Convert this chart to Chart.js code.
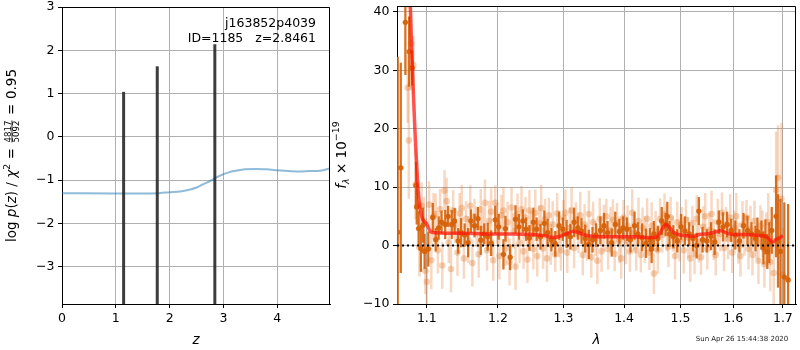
<!DOCTYPE html>
<html>

<head>
    <meta charset="utf-8">
    <title>p(z) and spectrum</title>
    <script src="https://cdn.jsdelivr.net/npm/chart.js@4"></script>
    <style>
        body {
            margin: 0;
            background: #fff;
        }

        #wrap {
            position: relative;
            width: 800px;
            height: 350px;
        }

        canvas {
            position: absolute;
            top: 0;
        }

        #pz { left: 0; }
        #spec { left: 325px; }
    </style>
</head>

<body>
    <div id="wrap">
        <canvas id="pz" width="340" height="350"></canvas>
        <canvas id="spec" width="475" height="350"></canvas>
    </div>

    <script>
        // ---- left panel: log p(z) ----
        const zGrid = [0, 1.0, 1.5, 1.8, 2.0, 2.2, 2.4, 2.5, 2.6, 2.7, 2.8, 2.9, 3.0, 3.1, 3.2, 3.4, 3.6, 3.8, 4.0, 4.2, 4.4, 4.6, 4.8, 4.98];
        const logPz = [-1.30, -1.31, -1.31, -1.30, -1.28, -1.26, -1.21, -1.17, -1.11, -1.05, -0.99, -0.92, -0.86, -0.82, -0.79, -0.75, -0.74, -0.75, -0.77, -0.79, -0.80, -0.79, -0.78, -0.73];
        const peakZ = [1.145, 1.77, 2.84];
        const peakLogP = [1.04, 1.63, 2.14];
        const zTicks = [0, 1, 2, 3, 4];
        const logPTicks = [-3, -2, -1, 0, 1, 2, 3];

        // ---- right panel: spectrum ----
        const lamTicks = [1.1, 1.2, 1.3, 1.4, 1.5, 1.6, 1.7];
        const fluxTicks = [-10, 0, 10, 20, 30, 40];

        const darkLam = [
            1.0615, 1.0655, 1.0715, 1.0765, 1.0805, 1.0855, 1.0865, 1.0890, 1.0920, 1.0950,
            1.097, 1.102, 1.108, 1.112, 1.116,
            1.120, 1.125, 1.129, 1.134, 1.138,
            1.143, 1.147, 1.152, 1.157, 1.161,
            1.166, 1.171, 1.175, 1.180, 1.185,
            1.190, 1.196, 1.201, 1.208, 1.211,
            1.218, 1.226, 1.231, 1.237,
            1.242, 1.247, 1.253, 1.258, 1.264,
            1.270, 1.275, 1.281, 1.287, 1.293,
            1.299, 1.305, 1.311, 1.317, 1.323,
            1.329, 1.335, 1.341, 1.347, 1.353,
            1.360, 1.366, 1.372, 1.379, 1.385,
            1.392, 1.398, 1.405, 1.411, 1.418,
            1.424, 1.431, 1.438, 1.445, 1.448, 1.452,
            1.459, 1.466, 1.473, 1.476, 1.480, 1.487,
            1.494, 1.501, 1.508, 1.516, 1.523,
            1.530, 1.534, 1.541, 1.549, 1.557, 1.564,
            1.572, 1.580, 1.588, 1.596, 1.604,
            1.612, 1.620, 1.628, 1.636, 1.644,
            1.648, 1.656, 1.660, 1.664, 1.668, 1.672, 1.677, 1.686, 1.690,
            1.695, 1.703, 1.711
        ];
        const darkFlux = [
            2.3, 13.3, 38.2, 33.2, 30.4, 10.3, 6.6, 2.9, -0.5, 3.5,
            -1.0, -0.6, 4.8, 1.0, 3.0,
            4.0, 3.6, 5.0, 3.6, 4.2,
            0.8, 2.2, 1.8, 0.5, 4.2,
            3.4, 4.6, 0.9, 2.0, 1.5,
            0.4, 4.4, 3.2, -1.5, 2.9,
            -2.0, 4.5, 3.2, 4.2,
            2.8, 1.3, 4.0, 2.8, 1.5,
            3.8, 2.2, 1.0, 0.3, 3.4,
            2.8, 2.0, 1.5, 4.0, 3.0,
            2.5, 1.2, 0.2, 1.0, 1.8,
            2.6, 3.4, 2.2, 0.5, 3.6,
            2.4, 3.0, 2.8, 1.0, 3.4,
            2.0, 1.4, 0.4, 1.0, -0.6, 2.0,
            1.2, 4.2, 3.6, 5.0, 2.0, 1.5,
            0.8, 3.2, 2.5, 2.0, 1.2,
            0.0, 5.9, 1.0, 0.8, 1.6, 0.6,
            4.0, 3.2, 3.6, 2.6, 1.8,
            0.8, 3.4, 2.6, 2.0, 1.2,
            2.4, 1.8, -0.4, 1.5, -1.0, 0.5, 2.6, 5.0, 0.8,
            -1.0, -5.4, -5.9
        ];
        const darkErr = [
            30, 18, 9, 6, 3, 4, 3, 3, 4, 3,
            3, 3, 2.5, 2, 2,
            2, 2.5, 1.8, 2.5, 2.2,
            2.2, 2.5, 2, 2.5, 2,
            2, 2, 2.5, 1.8, 2.4,
            2.2, 2.4, 2.2, 2.6, 2.2,
            2.2, 2.4, 2.2, 2,
            2, 2.2, 2.5, 2, 2.2,
            2.2, 2.4, 2, 2.2, 2.4,
            2, 2.4, 2.2, 2.5, 2,
            2.2, 2.4, 2.5, 2.2, 2,
            2.4, 2.2, 2, 2.4, 2.2,
            2.2, 2, 2, 2.2, 2.4,
            2, 2.4, 2.5, 2, 2.4, 2.2,
            2.2, 2.4, 2, 2.5, 2.2, 2,
            2, 2.2, 2.5, 2, 2.2,
            2.2, 2.4, 2.2, 2, 2.4, 2.2,
            2, 2.5, 2.2, 2, 2.5,
            2, 2.2, 2.5, 2, 2.2,
            2.4, 2.5, 2.8, 3, 3, 3.5, 4, 7, 8,
            9, 12.8, 13
        ];

        const lightLam = [
            1.0745, 1.0760, 1.0790, 1.0820, 1.0850, 1.0880, 1.0900, 1.0930, 1.0960, 1.0980,
            1.1000, 1.1030, 1.1060, 1.1090, 1.1120, 1.1150, 1.1180, 1.1210, 1.1240, 1.1270,
            1.130, 1.133, 1.136, 1.139, 1.142, 1.145, 1.148, 1.151, 1.154, 1.157,
            1.160, 1.163, 1.166, 1.169, 1.172, 1.175, 1.178, 1.181, 1.184, 1.187,
            1.190, 1.193, 1.196, 1.199, 1.202, 1.205, 1.208, 1.211, 1.214, 1.217,
            1.220, 1.223, 1.226, 1.229, 1.232, 1.235, 1.238, 1.241, 1.244, 1.247,
            1.250, 1.253, 1.256, 1.259, 1.262, 1.265, 1.268, 1.271, 1.274, 1.277,
            1.280, 1.283, 1.287, 1.290, 1.293, 1.296, 1.300, 1.303, 1.306, 1.310,
            1.313, 1.317, 1.320, 1.324, 1.327, 1.331, 1.334, 1.338, 1.341, 1.345,
            1.348, 1.352, 1.355, 1.359, 1.362, 1.366, 1.370, 1.373, 1.377, 1.381,
            1.384, 1.388, 1.392, 1.395, 1.399, 1.403, 1.406, 1.410, 1.414, 1.417,
            1.421, 1.425, 1.429, 1.432, 1.436, 1.440, 1.444, 1.448, 1.452, 1.455,
            1.459, 1.463, 1.467, 1.471, 1.475, 1.478, 1.482, 1.486, 1.490, 1.494,
            1.498, 1.502, 1.506, 1.510, 1.514, 1.518, 1.522, 1.526, 1.530, 1.534,
            1.538, 1.542, 1.546, 1.550, 1.554, 1.558, 1.562, 1.566, 1.570, 1.574,
            1.578, 1.582, 1.586, 1.590, 1.594, 1.598, 1.602, 1.606, 1.610, 1.614,
            1.618, 1.622, 1.626, 1.630, 1.634, 1.638, 1.642, 1.646, 1.650, 1.654,
            1.658, 1.662, 1.666, 1.670, 1.674, 1.681, 1.686, 1.690, 1.697, 1.700
        ];
        const lightFlux = [
            27.0, 18.0, 34.6, 30.9, 10.5, 6.9, -0.3, 6.8, 4.3, -4.3,
            -6.2, 7.0, -2.5, 5.0, 5.4, -0.8, 6.2, -3.4, 9.4, 7.6,
            0.5, -4.0, 6.0, 3.5, -1.2, 5.5, 6.4, -2.2, 4.6, 1.0,
            6.8, -3.0, 5.0, 3.2, -1.5, 6.2, 2.8, 7.3, -0.8, 4.2,
            5.8, -2.5, 7.3, 3.8, -1.8, 5.2, 6.0, -0.5, 4.0, -2.8,
            6.5, 2.5, -3.6, 5.4, 0.5, 6.2, -1.0, 4.8, -2.4, 6.0,
            3.0, -0.6, 5.6, -1.8, 3.8, 6.4, -0.5, 4.5, -2.2, 5.2,
            0.2, 3.6, -1.5, 5.5, 2.0, -0.8, 4.8, 5.6, -1.2, 3.0,
            6.0, -0.4, 4.4, 2.2, 5.2, -1.6, 3.6, 0.4, 5.4, -2.0,
            4.0, 1.2, -2.6, 4.6, -1.0, 3.0, 5.0, -0.6, 2.6, 4.4,
            -1.4, 3.8, 1.0, -2.2, 4.8, 0.8, 3.4, -1.0, 5.6, 2.2,
            -0.8, 4.2, -1.6, 3.0, 1.0, 4.6, -1.2, 3.4, -4.8, 2.4,
            -0.8, 4.6, 1.8, 5.4, 3.0, -0.2, 4.8, 2.0, -1.8, 4.0,
            0.8, 3.6, -0.8, 4.4, 1.4, -2.2, 3.8, -1.4, 4.6, 0.6,
            -2.0, 3.2, 5.0, -0.6, 2.6, 5.4, 1.0, -1.6, 4.0, 2.0,
            5.6, -0.4, 3.6, 1.2, 4.8, -1.2, 3.0, 5.0, 0.4, -1.8,
            3.6, 1.8, 4.8, -0.6, 2.8, -1.6, 4.2, 0.8, -2.6, 3.4,
            2.0, -3.2, 1.2, 4.0, -2.8, -4.7, 9.5, 11.6, 8.0, -5.0
        ];
        const lightErr = [
            6, 10, 8, 5, 6, 4, 5, 4, 4, 4,
            4, 4, 5, 4, 3.5, 4, 3.5, 4, 3.5, 4,
            3.5, 4, 3.5, 3, 4, 3.5, 4, 3.5, 3, 4,
            3.5, 4, 3, 3.5, 4, 3.5, 3, 4, 3.5, 3.5,
            4, 3.5, 3, 3.5, 4, 3.5, 4, 3, 3.5, 4,
            3.5, 3, 4, 3.5, 3.5, 4, 3, 3.5, 4, 3.5,
            3, 3.5, 4, 3.5, 3, 4, 3.5, 3.5, 4, 3,
            3.5, 4, 3, 3.5, 4, 3.5, 3, 4, 3.5, 3.5,
            4, 3.5, 3, 3.5, 4, 3.5, 3.5, 3, 4, 3.5,
            3.5, 3, 4, 3.5, 3.5, 4, 3, 3.5, 4, 3.5,
            3, 3.5, 4, 3.5, 3, 4, 3.5, 3.5, 4, 3,
            3.5, 4, 3, 3.5, 4, 3.5, 3, 4, 3.5, 3.5,
            4, 3.5, 3, 3.5, 4, 3.5, 3.5, 3, 4, 3.5,
            3.5, 3, 4, 3.5, 3.5, 4, 3, 3.5, 4, 3.5,
            3, 3.5, 4, 3.5, 3, 4, 3.5, 3.5, 4, 3,
            3.5, 4, 3, 3.5, 4, 3.5, 3, 4, 3.5, 3.5,
            4, 3.5, 3, 3.5, 4, 3.5, 3.5, 3, 4, 3.5,
            4, 4, 4.5, 5, 5, 6, 10, 9, 13, 8
        ];

        const modelLam = [
            1.0755, 1.0776, 1.0800, 1.0819, 1.0840, 1.0854, 1.0870, 1.0884, 1.0905, 1.0930,
            1.0960, 1.0995, 1.1030, 1.1060, 1.113, 1.13, 1.15, 1.18, 1.20, 1.23,
            1.25, 1.27, 1.285, 1.295, 1.305, 1.316, 1.325, 1.335, 1.35, 1.38,
            1.42, 1.445, 1.455, 1.462, 1.468, 1.474, 1.480, 1.487, 1.495, 1.51,
            1.525, 1.535, 1.55, 1.565, 1.576, 1.585, 1.60, 1.62, 1.64, 1.655,
            1.668, 1.676, 1.680, 1.686, 1.693, 1.700
        ];
        const modelFlux = [
            45, 42, 33, 26.6, 20, 16.3, 12.5, 9.4, 6.8, 5.0,
            4.2, 3.8, 2.8, 2.3, 2.2, 2.1, 2.1, 2.0, 2.0, 1.95,
            1.9, 1.7, 1.4, 1.6, 2.0, 2.45, 2.2, 1.8, 1.55, 1.5,
            1.5, 1.35, 1.4, 2.0, 3.0, 3.6, 3.1, 2.3, 1.9, 1.7,
            1.6, 1.9, 2.0, 2.3, 2.6, 2.2, 1.9, 1.9, 1.8, 1.7,
            1.4, 0.7, 0.6, 1.1, 1.3, 1.7
        ];

        const LAM_MIN = 1.0606, LAM_MAX = 1.7275;
        const FS = 12.5;       // tick labels
        const LFS = 13.5;      // axis labels
        const FAMILY = '"DejaVu Sans"';

        Chart.defaults.font.family = FAMILY;
        Chart.defaults.font.size = FS;
        Chart.defaults.color = '#000';

        const pts = (xs, ys) => xs.map((x, i) => ({ x: x, y: ys[i] }));
        const minus = v => (v < 0 ? '\u2212' + Math.abs(v) : String(v));
        const setTicks = arr => s => { s.ticks = arr.map(v => ({ value: v })); };

        function axisStyle(extra) {
            return Object.assign({
                bounds: 'data',
                grid: { color: '#b0b0b0', lineWidth: 1, tickColor: '#000', tickLength: 4 },
                border: { display: true, color: '#000', width: 1 }
            }, extra);
        }

        // fixed axis sizes, no extra room asked for the end labels
        const fitX = h => s => { s.height = h; s.paddingLeft = 0; s.paddingRight = 0; };
        const fitY = w => s => { s.width = w; s.paddingTop = 0; s.paddingBottom = 0; };

        // vertical error bars, drawn just before each dataset's markers
        const errorBars = {
            id: 'errorBars',
            beforeDatasetDraw(chart, args) {
                const ds = chart.data.datasets[args.index];
                if (!ds.errors) return;
                const { ctx, chartArea: a, scales: { x, y } } = chart;
                ctx.save();
                ctx.beginPath();
                ctx.rect(a.left, a.top, a.width, a.height);
                ctx.clip();
                ctx.strokeStyle = ds.errColor;
                ctx.lineWidth = ds.errWidth;
                ds.data.forEach((p, i) => {
                    const px = x.getPixelForValue(p.x);
                    ctx.beginPath();
                    ctx.moveTo(px, y.getPixelForValue(p.y - ds.errors[i]));
                    ctx.lineTo(px, y.getPixelForValue(p.y + ds.errors[i]));
                    ctx.stroke();
                });
                ctx.restore();
            }
        };

        // top and right spines
        const frame = {
            id: 'frame',
            afterDraw(chart) {
                const { ctx, chartArea: a } = chart;
                ctx.save();
                ctx.strokeStyle = '#000';
                ctx.lineWidth = 1;
                ctx.beginPath();
                ctx.moveTo(Math.round(a.left), Math.round(a.top) + 0.5);
                ctx.lineTo(Math.round(a.right) - 0.5, Math.round(a.top) + 0.5);
                ctx.lineTo(Math.round(a.right) - 0.5, Math.round(a.bottom));
                ctx.stroke();
                ctx.restore();
            }
        };

        // rotated label made of pieces (italic, super/subscripts, stacked fraction);
        // pieces marked pad get the extra room needed to reach the target length
        function drawRich(ctx, parts, bx, cy, target) {
            const font = p => (p.it ? 'italic ' : '') + ((p.s || 1) * LFS) + 'px ' + FAMILY;
            const widthOf = p => {
                ctx.font = font(p);
                if (p.frac) return Math.max(...p.frac.map(t => ctx.measureText(t).width)) + 2;
                return ctx.measureText(p.t).width;
            };
            ctx.save();
            ctx.translate(bx, cy);
            ctx.rotate(-Math.PI / 2);
            ctx.fillStyle = '#000';
            ctx.textBaseline = 'alphabetic';
            const widths = parts.map(widthOf);
            const total = widths.reduce((a, b) => a + b, 0);
            const nPad = parts.filter(p => p.pad).length;
            const extra = nPad ? Math.max(0, (target - total) / (2 * nPad)) : 0;
            let x = -(total + extra * 2 * nPad) / 2;
            parts.forEach((p, i) => {
                if (p.pad) x += extra;
                const w = widths[i];
                ctx.font = font(p);
                if (p.frac) {
                    const axis = -0.3 * LFS;
                    ctx.textAlign = 'center';
                    ctx.fillText(p.frac[0], x + w / 2, axis - 1.2);
                    ctx.fillText(p.frac[1], x + w / 2, axis + 1.2 + 0.73 * (p.s * LFS));
                    ctx.fillRect(x + 1, axis - 0.4, w - 2, 0.8);
                } else {
                    ctx.textAlign = 'left';
                    ctx.fillText(p.t, x, -(p.dy || 0) * LFS);
                }
                x += w;
                if (p.pad) x += extra;
            });
            ctx.restore();
        }

        const pzText = {
            id: 'pzText',
            afterDraw(chart) {
                const ctx = chart.ctx;
                const a = chart.chartArea;
                ctx.save();
                ctx.fillStyle = '#000';
                ctx.font = FS + 'px ' + FAMILY;
                ctx.textAlign = 'right';
                ctx.textBaseline = 'middle';
                ctx.fillText('j163852p4039', 316, 24);
                ctx.fillText('ID=1185   z=2.8461', 316, 39);
                ctx.restore();
                drawRich(ctx, [
                    { t: 'log ' },
                    { t: 'p', it: true },
                    { t: '(' },
                    { t: 'z', it: true },
                    { t: ') / ' },
                    { t: '\u03c7', it: true },
                    { t: '2', s: 0.7, dy: 0.45 },
                    { t: '=', pad: true },
                    { frac: ['4817', '5092'], s: 0.64 },
                    { t: '=', pad: true },
                    { t: '0.95' }
                ], 16, (a.top + a.bottom) / 2, 173);
            }
        };

        const specText = {
            id: 'specText',
            afterDraw(chart) {
                const ctx = chart.ctx;
                const a = chart.chartArea;
                drawRich(ctx, [
                    { t: 'f', it: true },
                    { t: '\u03bb', it: true, s: 0.7, dy: -0.25 },
                    { t: ' \u00d7 ' },
                    { t: '10' },
                    { t: '\u221219', s: 0.7, dy: 0.45 }
                ], 20.5, (a.top + a.bottom) / 2, 0);
                ctx.save();
                ctx.fillStyle = '#222';
                ctx.font = '7px ' + FAMILY;
                ctx.textAlign = 'center';
                ctx.textBaseline = 'middle';
                ctx.fillText('Sun Apr 26 15:44:38 2020', 417, 339);
                ctx.restore();
            }
        };

        // ---- left chart ----
        const zBottom = -3.86;
        const peakSets = peakZ.map((z, i) => ({
            data: [{ x: z, y: zBottom }, { x: z, y: peakLogP[i] }],
            showLine: true,
            pointRadius: 0,
            borderColor: 'rgba(40,40,40,0.9)',
            borderWidth: 3,
            order: 0
        }));

        new Chart(document.getElementById('pz'), {
            type: 'scatter',
            data: {
                datasets: peakSets.concat([{
                    data: pts(zGrid, logPz),
                    showLine: true,
                    pointRadius: 0,
                    borderColor: 'rgba(31,119,180,0.5)',
                    borderWidth: 2,
                    cubicInterpolationMode: 'monotone',
                    order: 1
                }])
            },
            options: {
                responsive: false,
                animation: false,
                layout: { padding: { top: 7, right: 10, left: 0, bottom: 0 } },
                plugins: { legend: { display: false }, tooltip: { enabled: false } },
                scales: {
                    x: axisStyle({
                        type: 'linear', min: 0, max: 4.98,
                        afterBuildTicks: setTicks(zTicks),
                        afterFit: fitX(46),
                        ticks: { callback: v => minus(v), autoSkip: false, maxRotation: 0, padding: 3 },
                        title: { display: true, text: 'z', font: { style: 'italic', size: LFS }, padding: { top: 0, bottom: 1 } }
                    }),
                    y: axisStyle({
                        type: 'linear', min: zBottom, max: 3.0,
                        afterBuildTicks: setTicks(logPTicks),
                        afterFit: fitY(62),
                        ticks: { callback: v => minus(v), autoSkip: false, padding: 3.5 }
                    })
                }
            },
            plugins: [frame, pzText]
        });

        // ---- right chart ----
        new Chart(document.getElementById('spec'), {
            type: 'scatter',
            data: {
                datasets: [
                    {
                        data: pts(modelLam, modelFlux),
                        showLine: true,
                        pointRadius: 0,
                        borderColor: 'rgba(255,20,10,0.72)',
                        borderWidth: 3.5,
                        cubicInterpolationMode: 'monotone',
                        order: 0
                    },
                    {
                        data: [{ x: LAM_MIN, y: 0 }, { x: LAM_MAX, y: 0 }],
                        showLine: true,
                        pointRadius: 0,
                        borderColor: '#000',
                        borderWidth: 2,
                        borderDash: [2, 3],
                        order: 1
                    },
                    {
                        data: pts(darkLam, darkFlux),
                        errors: darkErr,
                        errColor: 'rgba(214,98,10,0.9)',
                        errWidth: 2.3,
                        pointRadius: 2.7,
                        pointBorderWidth: 0,
                        backgroundColor: 'rgba(214,98,10,0.95)',
                        order: 2
                    },
                    {
                        data: pts(lightLam, lightFlux),
                        errors: lightErr,
                        errColor: 'rgba(225,115,35,0.28)',
                        errWidth: 2.5,
                        pointRadius: 3.3,
                        pointBorderWidth: 0,
                        backgroundColor: 'rgba(225,115,35,0.32)',
                        order: 3
                    }
                ]
            },
            options: {
                responsive: false,
                animation: false,
                layout: { padding: { top: 6, right: 1, left: 0, bottom: 0 } },
                plugins: { legend: { display: false }, tooltip: { enabled: false } },
                scales: {
                    x: axisStyle({
                        type: 'logarithmic', min: LAM_MIN, max: LAM_MAX,
                        afterBuildTicks: setTicks(lamTicks),
                        afterFit: fitX(46),
                        ticks: { callback: v => Number(v).toFixed(1), autoSkip: false, maxRotation: 0, padding: 3 },
                        title: { display: true, text: '\u03bb', font: { style: 'italic', size: LFS }, padding: { top: 0, bottom: 1 } }
                    }),
                    y: axisStyle({
                        type: 'linear', min: -10, max: 41,
                        afterBuildTicks: setTicks(fluxTicks),
                        afterFit: fitY(72),
                        ticks: { callback: v => minus(v), autoSkip: false, padding: 3.5 }
                    })
                }
            },
            plugins: [errorBars, frame, specText]
        });
    </script>
</body>

</html>
